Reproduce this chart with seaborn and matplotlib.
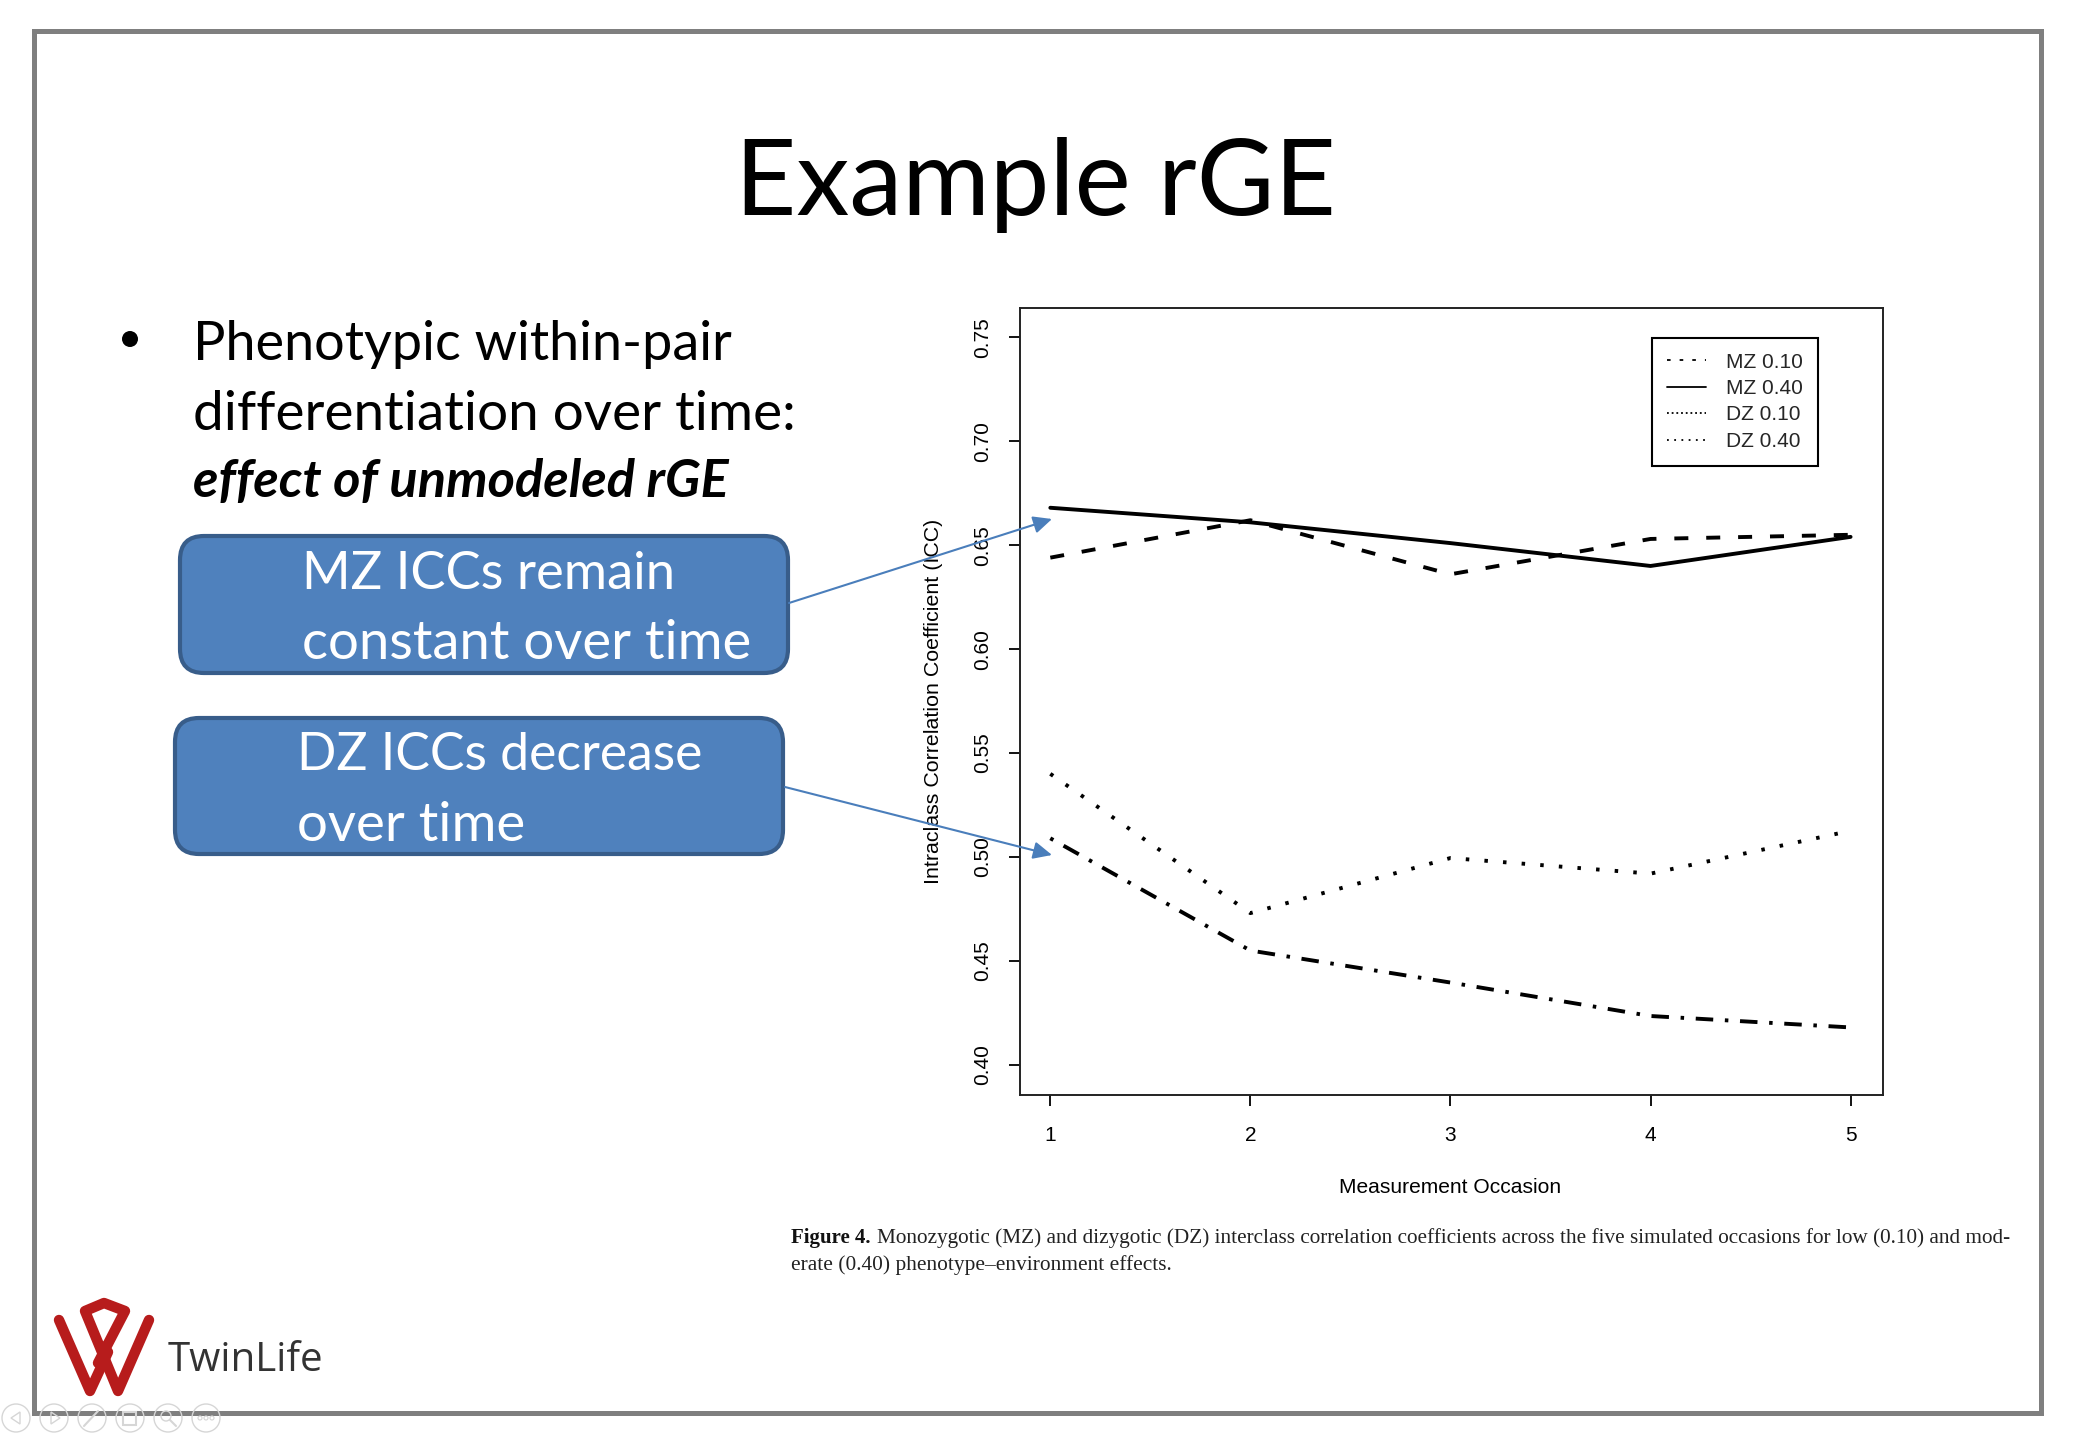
import matplotlib
matplotlib.use("Agg")
import matplotlib.pyplot as plt
from matplotlib.patches import FancyBboxPatch, Rectangle, Circle, Polygon
import pandas as pd
import seaborn as sns

occasions = [1, 2, 3, 4, 5]
mz_010 = [0.644, 0.662, 0.636, 0.653, 0.655]
mz_040 = [0.668, 0.661, 0.651, 0.640, 0.654]
dz_010 = [0.540, 0.473, 0.4995, 0.492, 0.5126]
dz_040 = [0.509, 0.455, 0.4396, 0.4235, 0.418]
series_names = ["MZ 0.10", "MZ 0.40", "DZ 0.10", "DZ 0.40"]
y_ticks = [0.40, 0.45, 0.50, 0.55, 0.60, 0.65, 0.70, 0.75]

W, H = 2075, 1437
sns.set_theme(style="white")
plt.rcParams["font.family"] = ["Liberation Sans", "DejaVu Sans"]

df = pd.DataFrame({
    "occasion": occasions * 4,
    "icc": mz_010 + mz_040 + dz_010 + dz_040,
    "series": sum([[s] * 5 for s in series_names], []),
})

fig = plt.figure(figsize=(W / 100, H / 100), dpi=100, facecolor="white")
L, R, T, B = 1019.5, 1883, 308, 1095
ax = fig.add_axes([L / W, 1 - B / H, (R - L) / W, (B - T) / H])
sns.lineplot(
    data=df, x="occasion", y="icc", hue="series", style="series",
    hue_order=series_names, style_order=series_names,
    palette=["black"] * 4,
    dashes={"MZ 0.10": (3.6, 4.6), "MZ 0.40": "", "DZ 0.10": (0.9, 3.9), "DZ 0.40": (0.9, 3, 4.5, 3)},
    linewidth=2.8, estimator=None, sort=False, ax=ax,
)
ax.set_xlim(0.846, 5.162)
ax.set_ylim(0.3855, 0.7641)
ax.set_xticks(occasions)
ax.set_yticks(y_ticks)
ax.set_yticklabels([f"{v:.2f}" for v in y_ticks], rotation=90, va="center")
ax.tick_params(axis="both", which="both", direction="out", length=8, width=1.3,
               labelsize=15, colors="black", bottom=True, left=True)
ax.tick_params(axis="x", pad=14)
ax.tick_params(axis="y", pad=12)
ax.set_xlabel("Measurement Occasion", fontsize=15.1, color="black")
ax.set_ylabel("Intraclass Correlation Coefficient (ICC)", fontsize=15.4, color="black", va="center")
ax.xaxis.set_label_coords(0.499, -0.106)
ax.yaxis.set_label_coords(-0.1, 0.5)
for s in ax.spines.values():
    s.set_visible(True)
    s.set_color("#222222")
    s.set_linewidth(1.4)

handles, labels = ax.get_legend_handles_labels()
leg = ax.legend(
    handles, labels, loc="upper left",
    bbox_to_anchor=((1652 - L) / (R - L), 1 - (337.5 - T) / (B - T)),
    borderaxespad=0, fancybox=False, framealpha=1, edgecolor="black",
    fontsize=15, handlelength=1.85, handletextpad=1.0, borderpad=0.72,
    labelspacing=0.36, title=None,
)
leg.get_frame().set_linewidth(1.5)
leg_dash = [(2, 5), None, (1, 1.6), (1, 3)]
for h, d in zip(leg.get_lines(), leg_dash):
    h.set_linewidth(1.3)
    if d is not None:
        h.set_dashes(d)

# Slide layer in pixel coordinates
ov = fig.add_axes([0, 0, 1, 1], zorder=5)
ov.set_xlim(0, W)
ov.set_ylim(H, 0)
ov.axis("off")
ov.patch.set_alpha(0)
rend = fig.canvas.get_renderer()


def fit(text, x, y, width, family, color="black", **kw):
    t = ov.text(x, y, text, family=family, color=color, va="baseline", fontsize=20, **kw)
    t.set_fontsize(20 * width / t.get_window_extent(rend).width)
    return t


lato = ["Lato", "DejaVu Sans"]
ov.add_patch(Rectangle((34, 31), 2007, 1381.5, fill=False, ec="#7f7f7f", lw=3.6))
fit("Example rGE", 735, 215, 602, lato)
ov.add_patch(Circle((130, 339), 8, fc="black", ec="none"))
fit("Phenotypic within-pair", 193, 360, 542, lato)
fit("differentiation over time:", 193, 430, 605, lato)
fit("effect of unmodeled rGE", 193, 497, 534, lato, style="italic", weight="bold")

for (x0, y0, x1, y1) in [(180, 536, 788, 673), (175, 718, 783, 854)]:
    ov.add_patch(FancyBboxPatch((x0, y0), x1 - x0, y1 - y0,
                                boxstyle="round,pad=0,rounding_size=24",
                                fc="#4F81BD", ec="#385D8A", lw=3))
fit("MZ ICCs remain", 302, 589, 374, lato, color="white")
fit("constant over time", 302, 659, 450, lato, color="white")
fit("DZ ICCs decrease", 297, 770, 406, lato, color="white")
fit("over time", 297, 841, 229, lato, color="white")

for start, end in [((789, 603), (1052, 519)), ((785, 787), (1052, 855))]:
    ov.annotate("", xy=end, xytext=start,
                arrowprops=dict(arrowstyle="-|>,head_length=0.75,head_width=0.35", color="#4A7EBB",
                                lw=1.5, shrinkA=0, shrinkB=0, mutation_scale=15))

serif = ["Liberation Serif", "DejaVu Serif"]
fit("Figure 4.", 791, 1243, 80, serif, color="#111111", weight="bold")
fit("Monozygotic (MZ) and dizygotic (DZ) interclass correlation coefficients across the five simulated occasions for low (0.10) and mod-",
    877, 1243, 1133, serif, color="#222222")
fit("erate (0.40) phenotype–environment effects.", 791, 1270, 379, serif, color="#222222")

# TwinLife logo
red = "#B71C1C"
y0 = 1260
ov.plot([59, 90, 108], [y0 + 60, y0 + 131, y0 + 92], color=red, lw=7.5,
        solid_joinstyle="round", solid_capstyle="round")
ov.plot([149, 118, 85, 104, 125, 98], [y0 + 60, y0 + 131, y0 + 51, y0 + 43, y0 + 51, y0 + 103],
        color=red, lw=7.5, solid_joinstyle="round", solid_capstyle="round")
fit("TwinLife", 168, 1371, 155, ["Open Sans", "DejaVu Sans"], color="#333333")

# Presenter-view buttons
grey = "#d6d6d6"
for cx in [16, 54, 92, 130, 168, 206]:
    ov.add_patch(Circle((cx, 1418), 14, fc="none", ec=grey, lw=1))
ov.add_patch(Polygon([(20, 1412), (11, 1418), (20, 1424)], fc="none", ec=grey, lw=1))
ov.add_patch(Polygon([(51, 1412), (60, 1418), (51, 1424)], fc="none", ec=grey, lw=1))
ov.plot([84, 98], [1426, 1411], color=grey, lw=1.5)
ov.add_patch(Rectangle((123, 1412), 13, 13, fc="none", ec=grey, lw=1.5))
ov.add_patch(Circle((166, 1416), 5, fc="none", ec=grey, lw=1))
ov.plot([170, 176], [1420, 1426], color=grey, lw=1.5)
for dx in [200, 206, 212]:
    ov.add_patch(Circle((dx, 1418), 2, fc="none", ec=grey, lw=0.8))

fig.savefig("out.png", dpi=100, facecolor="white")
